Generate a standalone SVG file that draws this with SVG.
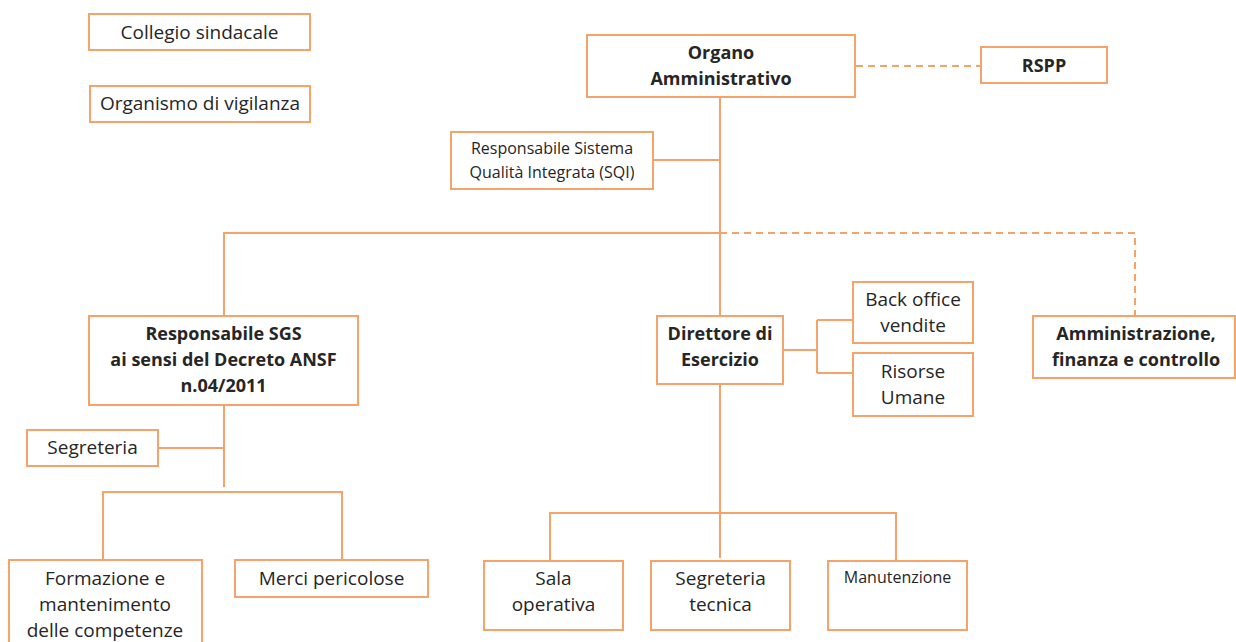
<svg xmlns="http://www.w3.org/2000/svg" width="1236" height="642" viewBox="0 0 1236 642">
<style>
.b{fill:#fff;stroke:#F4A36B;stroke-width:2}
.c{fill:none;stroke:#F4A36B;stroke-width:2}
.d{fill:none;stroke:#F4A36B;stroke-width:2;stroke-dasharray:7 5}
text{font-family:"Open Sans","Liberation Sans",sans-serif;font-size:19px;fill:#262626;text-anchor:middle}
.bo{font-weight:bold;font-size:18px}
.s{font-size:16px}
</style>
<rect width="1236" height="642" fill="#fff"/>
<g id="connectors">
<path class="c" d="M720 97V558"/>
<path class="c" d="M653 160H720"/>
<path class="d" d="M856 66H981"/>
<path class="c" d="M224 316V233H720"/>
<path class="d" d="M720 233H1135V316"/>
<path class="c" d="M224 405V487"/>
<path class="c" d="M158 448H224"/>
<path class="c" d="M103 560V492H342V560"/>
<path class="c" d="M783 350H817M817 320V373M817 320H853M817 373H853"/>
<path class="c" d="M550 561V513H896V561"/>
</g>
<g id="collegio"><rect class="b" x="89" y="14" width="221" height="36"/><text x="199.5" y="39">Collegio sindacale</text></g>
<g id="organismo"><rect class="b" x="90" y="86" width="220" height="36"/><text x="200" y="110">Organismo di vigilanza</text></g>
<g id="organo"><rect class="b" x="587" y="35" width="268" height="62"/><text class="bo" x="721" y="59">Organo</text><text class="bo" x="721" y="85">Amministrativo</text></g>
<g id="rspp"><rect class="b" x="981" y="47" width="126" height="36"/><text class="bo" x="1044" y="72">RSPP</text></g>
<g id="sqi"><rect class="b" x="451" y="132" width="202" height="57"/><text class="s" x="552" y="154">Responsabile Sistema</text><text class="s" x="552" y="178">Qualità Integrata (SQI)</text></g>
<g id="sgs"><rect class="b" x="89" y="316" width="269" height="89"/><text class="bo" x="223.5" y="340">Responsabile SGS</text><text class="bo" x="223.5" y="366">ai sensi del Decreto ANSF</text><text class="bo" x="223.5" y="392">n.04/2011</text></g>
<g id="segreteria"><rect class="b" x="27" y="430" width="131" height="36"/><text x="92.5" y="454">Segreteria</text></g>
<g id="direttore"><rect class="b" x="657" y="316" width="126" height="68"/><text class="bo" x="720" y="340">Direttore di</text><text class="bo" x="720" y="366">Esercizio</text></g>
<g id="backoffice"><rect class="b" x="853" y="282" width="120" height="61"/><text x="913" y="306">Back office</text><text x="913" y="332">vendite</text></g>
<g id="risorse"><rect class="b" x="853" y="353" width="120" height="63"/><text x="913" y="378">Risorse</text><text x="913" y="404">Umane</text></g>
<g id="amministrazione"><rect class="b" x="1033" y="316" width="202" height="62"/><text class="bo" x="1136" y="340">Amministrazione,</text><text class="bo" x="1136" y="366">finanza e controllo</text></g>
<g id="formazione"><rect class="b" x="9" y="560" width="193" height="90"/><text x="105" y="585">Formazione e</text><text x="105" y="611">mantenimento</text><text x="105" y="637">delle competenze</text></g>
<g id="merci"><rect class="b" x="235" y="560" width="193" height="37"/><text x="331.5" y="585">Merci pericolose</text></g>
<g id="sala"><rect class="b" x="484" y="561" width="139" height="69"/><text x="553.5" y="585">Sala</text><text x="553.5" y="611">operativa</text></g>
<g id="segtecnica"><rect class="b" x="651" y="561" width="139" height="69"/><text x="720.5" y="585">Segreteria</text><text x="720.5" y="611">tecnica</text></g>
<g id="manutenzione"><rect class="b" x="828" y="561" width="139" height="69"/><text class="s" x="897.5" y="583">Manutenzione</text></g>
</svg>
